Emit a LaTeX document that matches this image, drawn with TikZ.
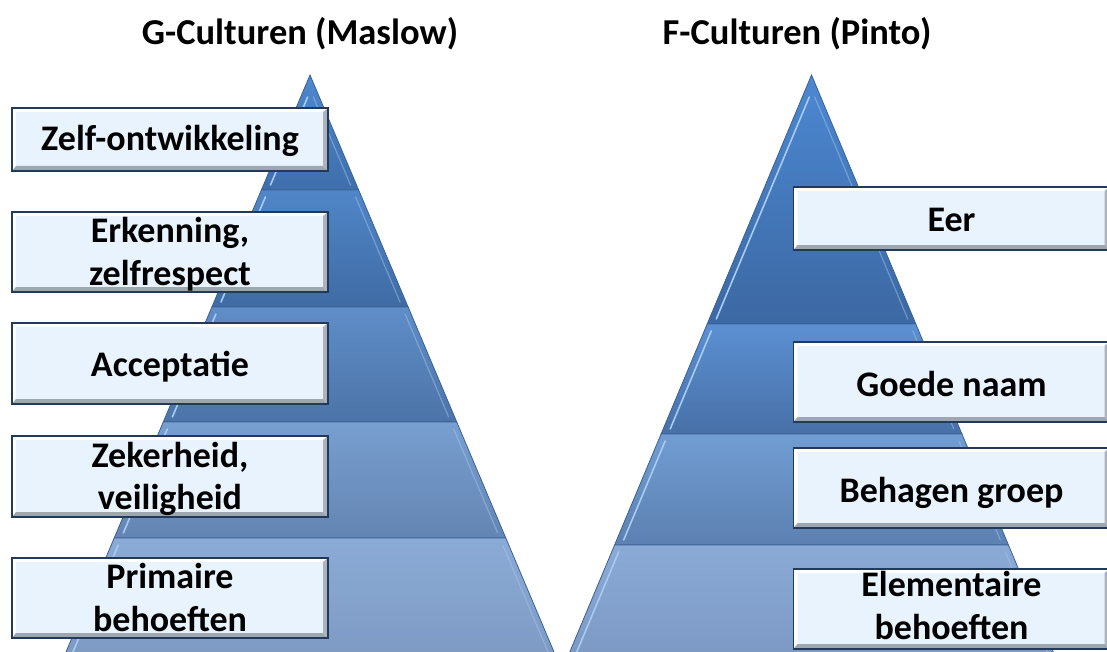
\documentclass[tikz,border=0pt]{standalone}
\usepackage{fontspec}
\setmainfont{Carlito}
\definecolor{boxfill}{HTML}{E9F3FE}
\definecolor{boxline}{HTML}{22395A}
\definecolor{bevlight}{HTML}{FFFFFF}
\definecolor{bevdark}{HTML}{9EA6B0}
\definecolor{tieredge}{HTML}{3A6194}
\definecolor{hlcol}{HTML}{A8CBF2}
\newcommand\pyrtier[7]{%
 \definecolor{tiertop}{HTML}{#5}%
 \definecolor{tierbot}{HTML}{#6}%
 \pgfmathsetmacro\tlx{#1-#2*(#3-75)}%
 \pgfmathsetmacro\trx{#1+#2*(#3-75)}%
 \pgfmathsetmacro\blx{#1-#2*(#4-75)}%
 \pgfmathsetmacro\brx{#1+#2*(#4-75)}%
 \shadedraw[top color=tiertop,bottom color=tierbot,draw=tieredge,line width=0.8pt] (\tlx,#3) -- (\trx,#3) -- (\brx,#4) -- (\blx,#4) -- cycle;
 \pgfmathsetmacro\hta{#3+#7}%
 \pgfmathsetmacro\htb{#4-5}%
 \pgfmathsetmacro\hxa{#1-#2*(\hta-75)+7}%
 \pgfmathsetmacro\hxb{#1-#2*(\htb-75)+7}%
 \draw[hilite] (\hxa,\hta) -- (\hxb,\htb);
 \pgfmathsetmacro\hxc{#1+#2*(\hta-75)-6}%
 \pgfmathsetmacro\hxd{#1+#2*(\htb-75)-6}%
 \draw[hiliteR] (\hxc,\hta) -- (\hxd,\htb);
}
\tikzset{
 hilite/.style={draw=hlcol,line width=1.6pt,line cap=round},
 hiliteR/.style={draw=hlcol,opacity=0.45,line width=1.2pt,line cap=round},
 title/.style={font=\bfseries\fontsize{36.5}{40}\selectfont,inner sep=0pt,anchor=base},
 lvl/.style={draw=boxline,line width=1.6pt,fill=boxfill,minimum width=316pt,inner sep=0pt,
   path picture={
     \fill[bevlight] (path picture bounding box.north west) -- (path picture bounding box.north east)
       -- ([xshift=-5pt,yshift=-4pt]path picture bounding box.north east) -- ([xshift=4pt,yshift=-4pt]path picture bounding box.north west) -- cycle;
     \fill[bevlight] (path picture bounding box.north west) -- ([xshift=4pt,yshift=-4pt]path picture bounding box.north west)
       -- ([xshift=4pt,yshift=5pt]path picture bounding box.south west) -- (path picture bounding box.south west) -- cycle;
     \fill[bevdark] (path picture bounding box.south west) -- (path picture bounding box.south east)
       -- ([xshift=-5pt,yshift=5pt]path picture bounding box.south east) -- ([xshift=4pt,yshift=5pt]path picture bounding box.south west) -- cycle;
     \fill[bevdark!85] (path picture bounding box.north east) -- ([xshift=-5pt,yshift=-4pt]path picture bounding box.north east)
       -- ([xshift=-5pt,yshift=5pt]path picture bounding box.south east) -- (path picture bounding box.south east) -- cycle;
   }},
 lvltxt/.style={font=\bfseries\fontsize{36}{40}\selectfont,inner sep=0pt,anchor=base},
}
\begin{document}
\begin{tikzpicture}[x=1pt,y=-1pt]
\useasboundingbox (0,0) rectangle (1107,652);
\clip (0,0) rectangle (1107,652);
% left pyramid
\pyrtier{310}{0.4229}{75}{190}{4F88CE}{3F6EAB}{22}
\pyrtier{310}{0.4229}{190}{307}{5086C8}{3F6BA4}{7}
\pyrtier{310}{0.4229}{307}{422}{5F8DC8}{4C74A8}{7}
\pyrtier{310}{0.4229}{422}{538}{779FD0}{6485B3}{7}
\pyrtier{310}{0.4229}{538}{664}{8AABD6}{7D99C2}{7}
% right pyramid
\pyrtier{811.5}{0.419}{75}{324}{4C88D2}{3C68A3}{22}
\pyrtier{811.5}{0.419}{324}{434}{5B90D3}{4870A7}{7}
\pyrtier{811.5}{0.419}{434}{545}{719DD3}{5C80B1}{7}
\pyrtier{811.5}{0.419}{545}{664}{8BAAD6}{7B98C3}{7}
% titles
\node[title] (tg) at (300,45) {G-Culturen (Maslow)};
\node[title] (tf) at (797,45) {F-Culturen (Pinto)};
% left boxes
\node[lvl,minimum height=63pt] (g1) at (170,139.5) {};
\node[lvltxt] (g1t) at (170,151) {Zelf-ontwikkeling};
\node[lvl,minimum height=80pt] (g2) at (170,252) {};
\node[lvltxt] (g2a) at (170,243) {Erkenning,};
\node[lvltxt] (g2b) at (170,285) {zelfrespect};
\node[lvl,minimum height=81pt] (g3) at (170,363.5) {};
\node[lvltxt] (g3t) at (170,376.5) {Acceptatie};
\node[lvl,minimum height=81pt] (g4) at (170,476.5) {};
\node[lvltxt] (g4a) at (170,467) {Zekerheid,};
\node[lvltxt] (g4b) at (170,509) {veiligheid};
\node[lvl,minimum height=80pt] (g5) at (170,598) {};
\node[lvltxt] (g5a) at (170,588) {Primaire};
\node[lvltxt] (g5b) at (170,631) {behoeften};
% right boxes
\node[lvl,minimum height=63pt] (f1) at (951.5,218.5) {};
\node[lvltxt] (f1t) at (951.5,231.5) {Eer};
\node[lvl,minimum height=80pt] (f2) at (951.5,382) {};
\node[lvltxt] (f2t) at (951.5,396) {Goede naam};
\node[lvl,minimum height=80pt] (f3) at (951.5,488) {};
\node[lvltxt] (f3t) at (951.5,502) {Behagen groep};
\node[lvl,minimum height=80pt] (f4) at (951.5,609) {};
\node[lvltxt] (f4a) at (951.5,596) {Elementaire};
\node[lvltxt] (f4b) at (951.5,639) {behoeften};
\end{tikzpicture}
\end{document}
